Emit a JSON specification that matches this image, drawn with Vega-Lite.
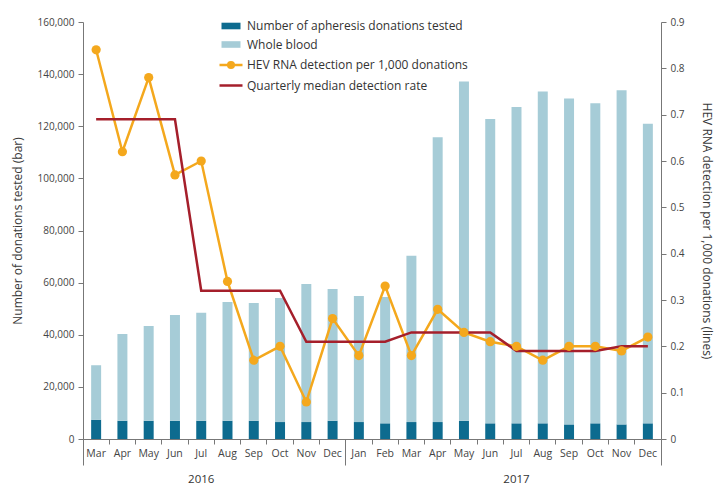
{
  "$schema": "https://vega.github.io/schema/vega-lite/v6.json",
  "width": 578,
  "height": 417,
  "autosize": {"type": "none"},
  "padding": {"left": 83, "top": 22, "right": 64, "bottom": 49},
  "config": {
    "font": "Open Sans",
    "view": {"stroke": null},
    "axis": {
      "grid": false,
      "domainColor": "#777777",
      "tickColor": "#777777",
      "labelColor": "#444444",
      "titleColor": "#3a3a3a",
      "titleFontWeight": "normal",
      "titleFontSize": 12,
      "labelFontSize": 10
    }
  },
  "data": {
    "values": [
      {"month": "2016-03", "apheresis": 7400, "whole": 20900, "rate": 0.84, "median": 0.69},
      {"month": "2016-04", "apheresis": 7000, "whole": 33300, "rate": 0.62, "median": 0.69},
      {"month": "2016-05", "apheresis": 7000, "whole": 36400, "rate": 0.78, "median": 0.69},
      {"month": "2016-06", "apheresis": 7000, "whole": 40600, "rate": 0.57, "median": 0.69},
      {"month": "2016-07", "apheresis": 7000, "whole": 41400, "rate": 0.60, "median": 0.32},
      {"month": "2016-08", "apheresis": 7000, "whole": 45600, "rate": 0.34, "median": 0.32},
      {"month": "2016-09", "apheresis": 7000, "whole": 45200, "rate": 0.17, "median": 0.32},
      {"month": "2016-10", "apheresis": 6500, "whole": 47600, "rate": 0.20, "median": 0.32},
      {"month": "2016-11", "apheresis": 6500, "whole": 53000, "rate": 0.08, "median": 0.21},
      {"month": "2016-12", "apheresis": 7000, "whole": 50600, "rate": 0.26, "median": 0.21},
      {"month": "2017-01", "apheresis": 6500, "whole": 48400, "rate": 0.18, "median": 0.21},
      {"month": "2017-02", "apheresis": 6000, "whole": 48500, "rate": 0.33, "median": 0.21},
      {"month": "2017-03", "apheresis": 6500, "whole": 63800, "rate": 0.18, "median": 0.23},
      {"month": "2017-04", "apheresis": 6500, "whole": 109300, "rate": 0.28, "median": 0.23},
      {"month": "2017-05", "apheresis": 7000, "whole": 130200, "rate": 0.23, "median": 0.23},
      {"month": "2017-06", "apheresis": 6000, "whole": 116800, "rate": 0.21, "median": 0.23},
      {"month": "2017-07", "apheresis": 6000, "whole": 121400, "rate": 0.20, "median": 0.19},
      {"month": "2017-08", "apheresis": 6000, "whole": 127300, "rate": 0.17, "median": 0.19},
      {"month": "2017-09", "apheresis": 5600, "whole": 125000, "rate": 0.20, "median": 0.19},
      {"month": "2017-10", "apheresis": 6000, "whole": 122800, "rate": 0.20, "median": 0.19},
      {"month": "2017-11", "apheresis": 5600, "whole": 128200, "rate": 0.19, "median": 0.20},
      {"month": "2017-12", "apheresis": 6000, "whole": 115000, "rate": 0.22, "median": 0.20}
    ]
  },
  "layer": [
    {
      "transform": [{"fold": ["apheresis", "whole"], "as": ["series", "count"]}],
      "mark": {"type": "bar", "width": {"band": 0.38}},
      "encoding": {
        "x": {
          "field": "month",
          "type": "nominal",
          "scale": {"paddingInner": 0, "paddingOuter": 0},
          "axis": {
            "orient": "bottom",
            "title": null,
            "bandPosition": 0,
            "tickSize": 5,
            "labelPadding": 4,
            "labelAngle": 0,
            "labelFontSize": 10.5,
            "labelExpr": "['Jan','Feb','Mar','Apr','May','Jun','Jul','Aug','Sep','Oct','Nov','Dec'][toNumber(substring(datum.value,5,7))-1]"
          }
        },
        "y": {
          "field": "count",
          "type": "quantitative",
          "stack": "zero",
          "scale": {"domain": [0, 160000]},
          "axis": {
            "orient": "left",
            "title": "Number of donations tested (bar)",
            "values": [0, 20000, 40000, 60000, 80000, 100000, 120000, 140000, 160000],
            "format": ",.0f",
            "tickSize": 5,
            "labelPadding": 4,
            "titlePadding": 13
          }
        },
        "order": {"field": "series", "sort": "ascending"},
        "color": {
          "field": "series",
          "type": "nominal",
          "scale": {
            "domain": ["apheresis", "whole", "rate", "median"],
            "range": ["#0d6b8f", "#a6ccd7", "#f4a81d", "#a51f2b"]
          },
          "legend": {
            "orient": "none",
            "legendX": 142,
            "legendY": -2,
            "title": null,
            "symbolSize": 400,
            "rowPadding": 6.5,
            "labelOffset": 10,
            "labelLimit": 400,
            "labelFontSize": 12,
            "labelColor": "#333333",
            "labelExpr": "datum.value === 'apheresis' ? 'Number of apheresis donations tested' : datum.value === 'whole' ? 'Whole blood' : datum.value === 'rate' ? 'HEV RNA detection per 1,000 donations' : 'Quarterly median detection rate'",
            "encode": {
              "symbols": {
                "update": {
                  "shape": {"signal": "datum.value === 'apheresis' || datum.value === 'whole' ? 'M-0.95,-0.33H0.95V0.33H-0.95Z' : datum.value === 'rate' ? 'M-1.15,0H1.15M-0.28,0A0.28,0.28 0 1,0 0.28,0A0.28,0.28 0 1,0 -0.28,0' : 'M-1.15,0H1.15'"},
                  "fill": {"signal": "datum.value === 'median' ? 'transparent' : scale('color', datum.value)"},
                  "stroke": {"signal": "datum.value === 'rate' || datum.value === 'median' ? scale('color', datum.value) : 'transparent'"},
                  "strokeWidth": {"signal": "datum.value === 'rate' || datum.value === 'median' ? 2.5 : 0"},
                  "opacity": {"value": 1}
                }
              }
            }
          }
        }
      }
    },
    {
      "mark": {"type": "line", "strokeWidth": 2.5},
      "encoding": {
        "x": {
          "field": "month",
          "type": "nominal",
          "axis": {
            "orient": "bottom",
            "title": null,
            "values": ["2016-03", "2017-01"],
            "bandPosition": 0,
            "tickSize": 26,
            "labels": false,
            "domain": false
          }
        },
        "y": {
          "field": "rate",
          "type": "quantitative",
          "scale": {"domain": [0, 0.9]},
          "axis": {
            "orient": "right",
            "title": "HEV RNA detection per 1,000 donations (lines)",
            "values": [0, 0.1, 0.2, 0.3, 0.4, 0.5, 0.6, 0.7, 0.8, 0.9],
            "format": ".1~f",
            "tickSize": 5,
            "labelPadding": 4,
            "titlePadding": 15
          }
        },
        "color": {"datum": "rate", "type": "nominal"}
      }
    },
    {
      "mark": {"type": "line", "strokeWidth": 2.5},
      "encoding": {
        "x": {
          "field": "month",
          "type": "nominal",
          "axis": {
            "orient": "bottom",
            "title": null,
            "values": ["2016-07", "2017-07"],
            "ticks": false,
            "domain": false,
            "labelAngle": 0,
            "labelPadding": 34,
            "labelFontSize": 11.5,
            "labelColor": "#333333",
            "labelExpr": "substring(datum.value,0,4)"
          }
        },
        "y": {"field": "median", "type": "quantitative", "scale": {"domain": [0, 0.9]}, "axis": null},
        "color": {"datum": "median", "type": "nominal"}
      }
    },
    {
      "mark": {"type": "point", "filled": true, "size": 85, "opacity": 1},
      "encoding": {
        "x": {
          "field": "month",
          "type": "nominal",
          "axis": {
            "orient": "bottom",
            "title": null,
            "values": ["2017-12"],
            "bandPosition": 1,
            "tickSize": 26,
            "labels": false,
            "domain": false
          }
        },
        "y": {"field": "rate", "type": "quantitative", "scale": {"domain": [0, 0.9]}, "axis": null},
        "color": {"datum": "rate", "type": "nominal"}
      }
    }
  ],
  "resolve": {"scale": {"y": "independent"}, "axis": {"x": "independent"}}
}
